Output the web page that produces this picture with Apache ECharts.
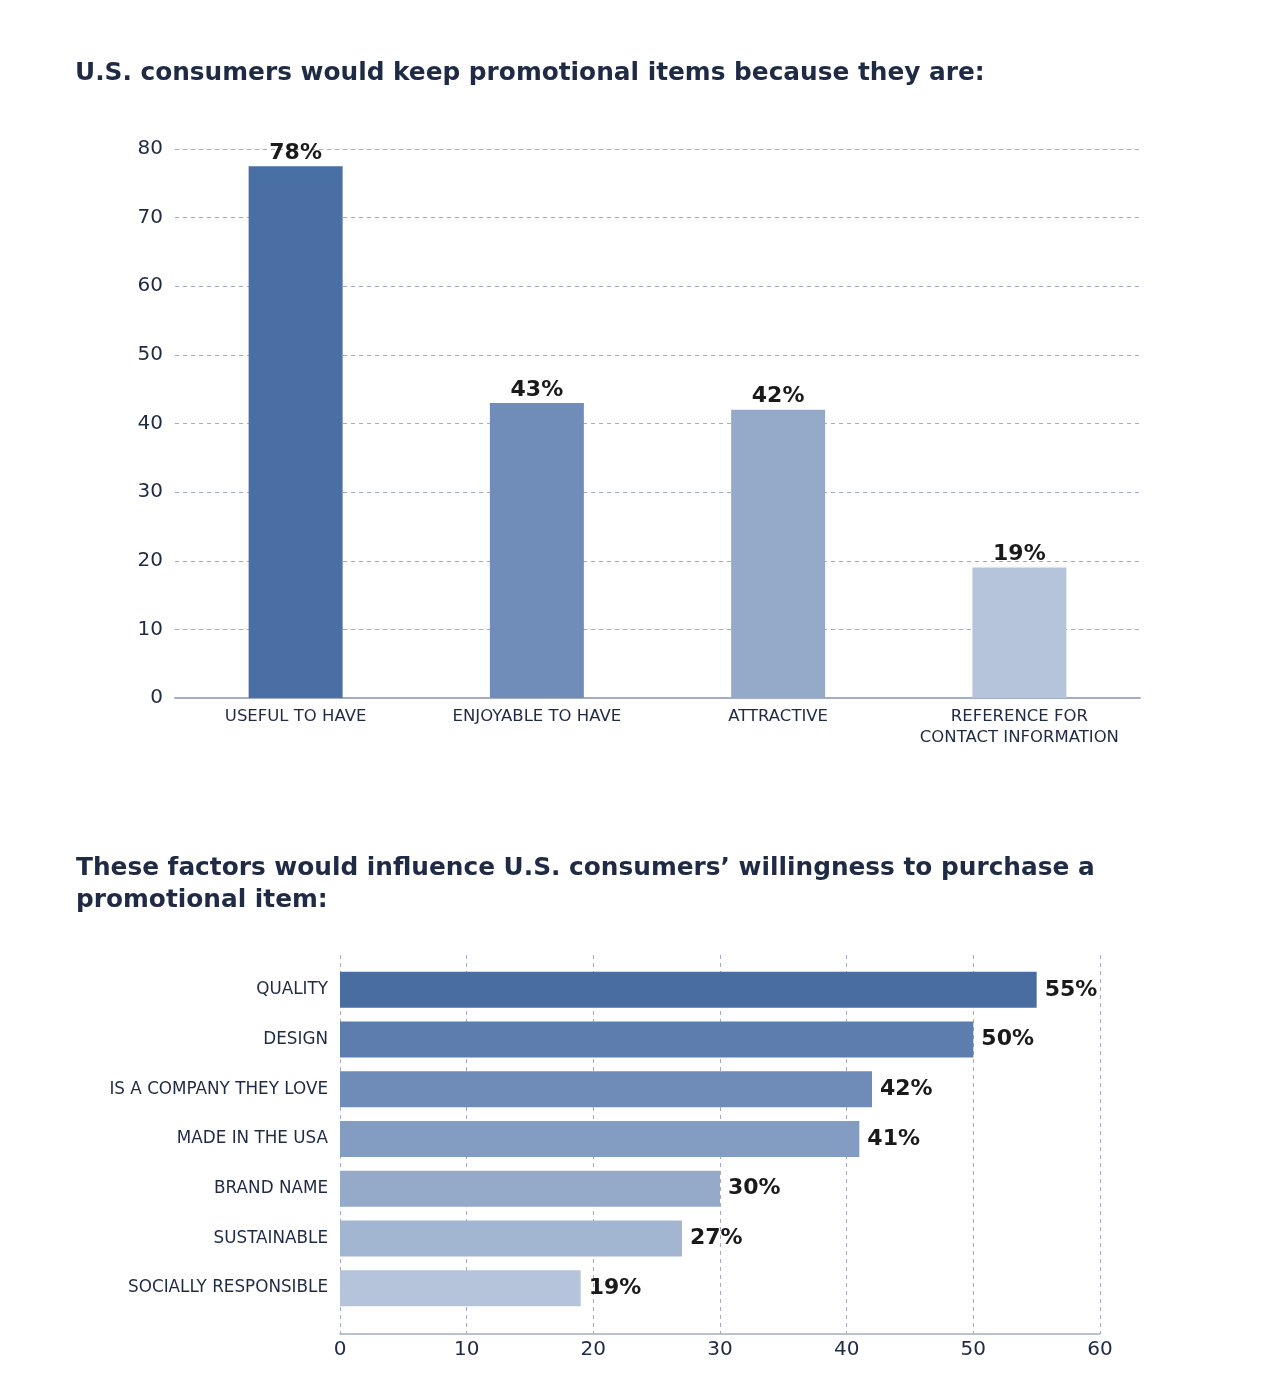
<!DOCTYPE html>
<html>
<head>
<meta charset="utf-8">
<script src="https://cdn.jsdelivr.net/npm/echarts@6/dist/echarts.min.js"></script>
<style>
  html, body { margin: 0; padding: 0; background: #fff; }
  #main { width: 1275px; height: 1380px; }
</style>
</head>
<body>
<div id="main"></div>
<script>
const keepCategories = ['USEFUL TO HAVE', 'ENJOYABLE TO HAVE', 'ATTRACTIVE', 'REFERENCE FOR\nCONTACT INFORMATION'];
const keepValues = [77.5, 43, 42, 19];
const keepColors = ['#4a6fa4', '#6f8db8', '#95aac9', '#b5c4da'];
const keepTicks = { min: 0, max: 80, interval: 10 };

const factorCategories = ['QUALITY', 'DESIGN', 'IS A COMPANY THEY LOVE', 'MADE IN THE USA', 'BRAND NAME', 'SUSTAINABLE', 'SOCIALLY RESPONSIBLE'];
const factorValues = [55, 50, 42, 41, 30, 27, 19];
const factorColors = ['#4a6da1', '#5d7dae', '#6f8cb8', '#829cc2', '#95a9c9', '#a3b6d1', '#b5c4da'];
const factorTicks = { min: 0, max: 60, interval: 10 };

const font = "'DejaVu Sans', Verdana, sans-serif";
const dark = '#1f2a44';
const gridLine = { show: true, lineStyle: { type: [4, 4], color: '#a3aac2', width: 1 } };
const pct = p => Math.round(p.value) + '%';

const chart = echarts.init(document.getElementById('main'));

chart.setOption({
  animation: false,
  textStyle: { fontFamily: font },
  title: [
    {
      text: 'U.S. consumers would keep promotional items because they are:',
      left: 75, top: 61, padding: 0,
      textStyle: { fontFamily: font, fontSize: 24.8, fontWeight: 'bold', color: dark }
    },
    {
      text: 'These factors would influence U.S. consumers\u2019 willingness to purchase a\npromotional item:',
      left: 76, top: 853, padding: 0,
      textStyle: { fontFamily: font, fontSize: 24.8, fontWeight: 'bold', color: dark, lineHeight: 32 }
    }
  ],
  grid: [
    { left: 175, right: 135, top: 149, height: 549 },
    { left: 340, right: 175, top: 955, height: 379 },
    { left: 340, right: 175, top: 965, height: 348 }
  ],
  xAxis: [
    {
      gridIndex: 0, type: 'category', data: keepCategories,
      axisLine: { lineStyle: { color: '#a3aec4', width: 2 } },
      axisTick: { show: false },
      axisLabel: { interval: 0, color: dark, fontFamily: font, fontSize: 16.5, margin: 8, lineHeight: 21 }
    },
    {
      gridIndex: 1, type: 'value', ...factorTicks,
      axisLine: { show: true, lineStyle: { color: '#a3aec4', width: 1.5 } },
      axisTick: { show: false },
      splitLine: gridLine,
      axisLabel: { color: dark, fontFamily: font, fontSize: 20, margin: 6 }
    },
    {
      gridIndex: 2, type: 'value', ...factorTicks, show: false, splitLine: { show: false }
    }
  ],
  yAxis: [
    {
      gridIndex: 0, type: 'value', ...keepTicks,
      axisLine: { show: false }, axisTick: { show: false },
      splitLine: gridLine,
      axisLabel: { color: dark, fontFamily: font, fontSize: 20, margin: 12 }
    },
    {
      gridIndex: 1, type: 'value', show: false, splitLine: { show: false }
    },
    {
      gridIndex: 2, type: 'category', data: factorCategories, inverse: true,
      axisLine: { show: false }, axisTick: { show: false },
      axisLabel: { interval: 0, color: dark, fontFamily: font, fontSize: 16.8, margin: 12 }
    }
  ],
  series: [
    {
      type: 'bar', xAxisIndex: 0, yAxisIndex: 0,
      barWidth: 94,
      data: keepValues.map((v, i) => ({ value: v, itemStyle: { color: keepColors[i] } })),
      label: {
        show: true, position: 'top', distance: 2, formatter: pct,
        fontFamily: font, fontSize: 22, fontWeight: 'bold', color: '#1a1a1a'
      }
    },
    {
      type: 'bar', xAxisIndex: 2, yAxisIndex: 2,
      barWidth: 36,
      data: factorValues.map((v, i) => ({ value: v, itemStyle: { color: factorColors[i] } })),
      label: {
        show: true, position: 'right', distance: 8, formatter: pct,
        fontFamily: font, fontSize: 22, fontWeight: 'bold', color: '#1a1a1a'
      }
    }
  ]
});
</script>
</body>
</html>
